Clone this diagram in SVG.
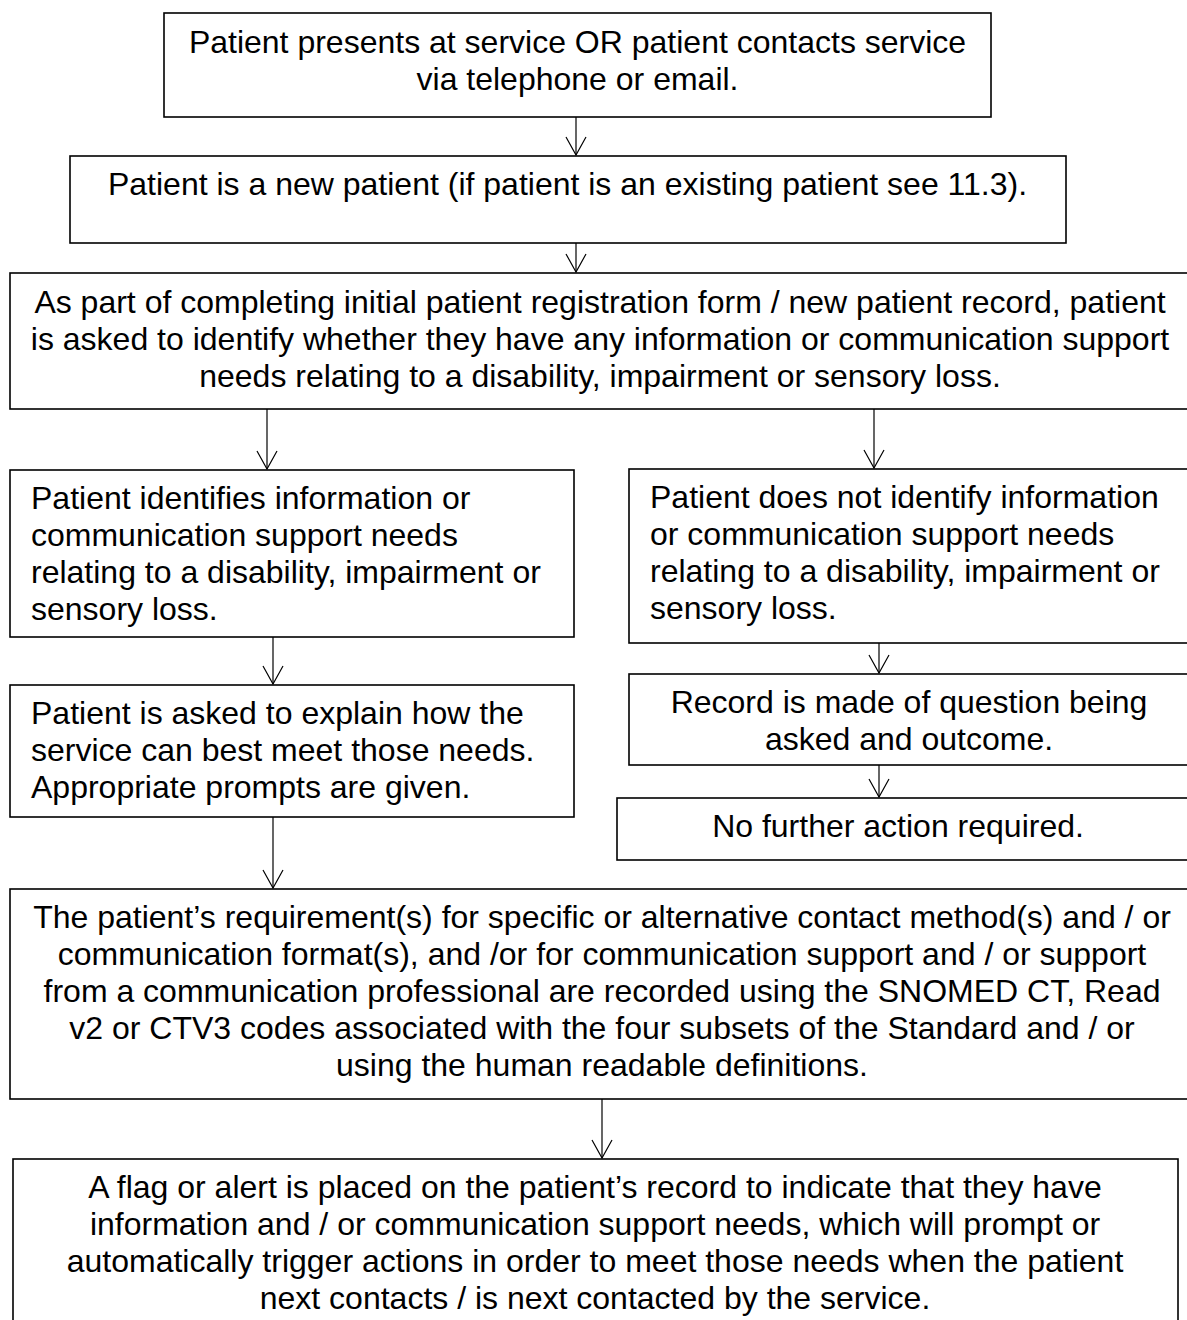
<svg xmlns="http://www.w3.org/2000/svg" width="1187" height="1320" viewBox="0 0 1187 1320">
<style>
.box{fill:#fff;stroke:#000;stroke-width:1.6}
.t{font-family:"Liberation Sans",Arial,sans-serif;font-size:32px;fill:#000}
.c{text-anchor:middle}
.conn{stroke:#000;stroke-width:1.2;fill:none;marker-end:url(#ah)}
</style>
<defs>
<marker id="ah" markerUnits="userSpaceOnUse" viewBox="-20 -12 22 24" markerWidth="22" markerHeight="24" refX="0" refY="0" orient="auto">
<path d="M-18,-10 L0,0 L-18,10" fill="none" stroke="#000" stroke-width="1.2"/>
</marker>
</defs>
<rect width="1187" height="1320" fill="#fff"/>
<g id="connectors">
<line class="conn" x1="576" y1="117" x2="576" y2="155"/>
<line class="conn" x1="576" y1="243" x2="576" y2="272"/>
<line class="conn" x1="267" y1="409" x2="267" y2="469"/>
<line class="conn" x1="874" y1="409" x2="874" y2="468"/>
<line class="conn" x1="273" y1="637" x2="273" y2="684"/>
<line class="conn" x1="879" y1="642" x2="879" y2="673"/>
<line class="conn" x1="879" y1="765" x2="879" y2="797"/>
<line class="conn" x1="273" y1="817" x2="273" y2="888"/>
<line class="conn" x1="602" y1="1099" x2="602" y2="1158"/>
</g>
<g id="n1">
<rect class="box" x="164" y="13" width="827" height="104"/>
<text class="t c" x="577.5" y="53">Patient presents at service OR patient contacts service</text>
<text class="t c" x="577.5" y="90">via telephone or email.</text>
</g>
<g id="n2">
<rect class="box" x="70" y="156" width="996" height="87"/>
<text class="t c" x="567.5" y="195">Patient is a new patient (if patient is an existing patient see 11.3).</text>
</g>
<g id="n3">
<rect class="box" x="10" y="273" width="1180" height="136"/>
<text class="t c" x="600" y="313">As part of completing initial patient registration form / new patient record, patient</text>
<text class="t c" x="600" y="350">is asked to identify whether they have any information or communication support</text>
<text class="t c" x="600" y="387">needs relating to a disability, impairment or sensory loss.</text>
</g>
<g id="n4">
<rect class="box" x="10" y="470" width="564" height="167"/>
<text class="t" x="31" y="509">Patient identifies information or</text>
<text class="t" x="31" y="546">communication support needs</text>
<text class="t" x="31" y="583">relating to a disability, impairment or</text>
<text class="t" x="31" y="620">sensory loss.</text>
</g>
<g id="n5">
<rect class="box" x="629" y="469" width="561" height="174"/>
<text class="t" x="650" y="508">Patient does not identify information</text>
<text class="t" x="650" y="545">or communication support needs</text>
<text class="t" x="650" y="582">relating to a disability, impairment or</text>
<text class="t" x="650" y="619">sensory loss.</text>
</g>
<g id="n6">
<rect class="box" x="10" y="685" width="564" height="132"/>
<text class="t" x="31" y="724">Patient is asked to explain how the</text>
<text class="t" x="31" y="761">service can best meet those needs.</text>
<text class="t" x="31" y="798">Appropriate prompts are given.</text>
</g>
<g id="n7">
<rect class="box" x="629" y="674" width="561" height="91"/>
<text class="t c" x="909" y="713">Record is made of question being</text>
<text class="t c" x="909" y="750">asked and outcome.</text>
</g>
<g id="n8">
<rect class="box" x="617" y="798" width="573" height="62"/>
<text class="t c" x="898" y="837">No further action required.</text>
</g>
<g id="n9">
<rect class="box" x="10" y="889" width="1184" height="210"/>
<text class="t c" x="602" y="928">The patient’s requirement(s) for specific or alternative contact method(s) and / or</text>
<text class="t c" x="602" y="965">communication format(s), and /or for communication support and / or support</text>
<text class="t c" x="602" y="1002">from a communication professional are recorded using the SNOMED CT, Read</text>
<text class="t c" x="602" y="1039">v2 or CTV3 codes associated with the four subsets of the Standard and / or</text>
<text class="t c" x="602" y="1076">using the human readable definitions.</text>
</g>
<g id="n10">
<rect class="box" x="13" y="1159" width="1165" height="180"/>
<text class="t c" x="595" y="1198">A flag or alert is placed on the patient’s record to indicate that they have</text>
<text class="t c" x="595" y="1235">information and / or communication support needs, which will prompt or</text>
<text class="t c" x="595" y="1272">automatically trigger actions in order to meet those needs when the patient</text>
<text class="t c" x="595" y="1309">next contacts / is next contacted by the service.</text>
</g>
</svg>
